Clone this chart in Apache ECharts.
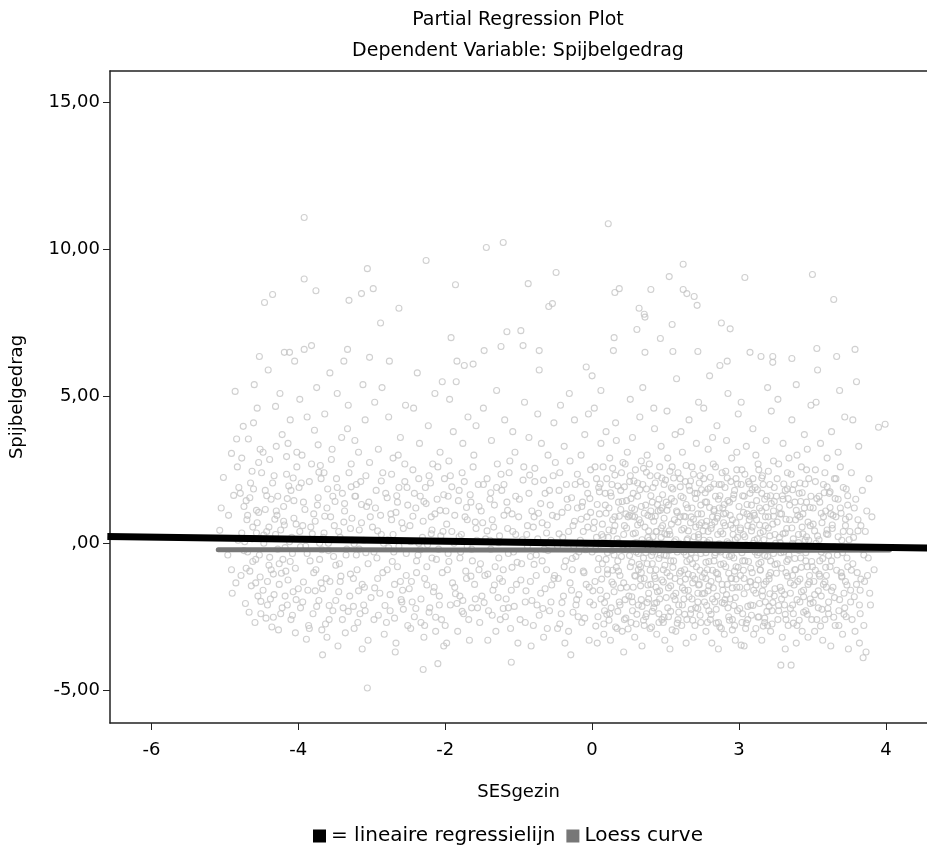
<!DOCTYPE html>
<html>
<head>
<meta charset="utf-8">
<title>Partial Regression Plot</title>
<script src="https://cdn.jsdelivr.net/npm/echarts@6/dist/echarts.min.js"></script>
<style>
  html, body { margin: 0; padding: 0; background: #fff; }
  #chart { width: 927px; height: 847px; }
</style>
</head>
<body>
<div id="chart"></div>
<script>
// tick labels as printed by SPSS (the tick at 2 reads "3")
const xTickValues = [-6, -4, -2, 0, 2, 4]
const xTickLabels = ['-6', '-4', '-2', '0', '3', '4']
const yTickValues = [-5, 0, 5, 10, 15]
const yTickLabels = ['-5,00', ',00', '5,00', '10,00', '15,00']

// fitted lines
const regressionX = [-6.6, 4.6]
const regressionY = [0.23, -0.161]
const loessX = [-5.09, -3.5, -2.0, -0.5, 0.3, 1.0, 2.0, 3.0, 4.05]
const loessY = [-0.22, -0.22, -0.23, -0.23, -0.24, -0.25, -0.25, -0.24, -0.23]

// residual points (SESgezin, Spijbelgedrag) per x band
const cloudFarLeft = [
  [-5.07,0.44],[-5.02,2.24],[-4.91,3.06],[-4.88,1.63],[-4.91,-0.90],[-4.95,0.95],[-4.85,-1.35],[-4.83,2.60],
  [-5.05,1.20],[-4.86,5.17],[-4.82,0.10],[-4.96,-0.40],[-4.84,3.55],[-4.90,-1.70],[-4.81,1.90],
  [-4.75,3.98],[-4.61,4.10],[-4.78,-1.10],[-4.72,-2.05],[-4.70,0.80],[-4.66,1.55],[-4.63,2.45],[-4.58,-0.55],
  [-4.55,-1.80],[-4.53,6.36],[-4.52,3.20],[-4.69,-0.30],[-4.74,1.25],[-4.57,0.35],[-4.64,-1.45],[-4.51,-2.40],
  [-4.77,2.90],[-4.60,5.40],[-4.68,3.55],[-4.54,1.05],[-4.73,0.05],[-4.59,-2.70],[-4.65,2.05],[-4.56,4.60],
  [-4.71,-0.85],[-4.62,0.55],[-4.52,-1.15],[-4.79,1.70],[-4.67,-2.35],[-4.54,2.75],
  [-4.46,8.20],[-4.41,5.90],[-4.35,8.47],[-4.31,4.66],[-4.48,3.10],[-4.45,1.80],[-4.43,0.40],[-4.40,-0.75],
  [-4.38,-1.90],[-4.36,-2.85],[-4.33,2.30],[-4.30,1.10],[-4.28,-0.20],[-4.26,-1.40],[-4.24,-2.40],[-4.22,3.70],
  [-4.20,0.75],[-4.19,6.50],[-4.17,-0.95],[-4.15,-2.10],[-4.13,1.95],[-4.12,6.50],[-4.11,4.20],[-4.09,0.20],
  [-4.07,-1.65],[-4.05,6.20],[-4.04,-3.05],[-4.02,2.60],[-4.44,-2.55],[-4.39,2.85],[-4.34,-1.05],[-4.29,0.95],
  [-4.25,5.10],[-4.21,-0.55],[-4.16,2.95],[-4.10,-2.60],[-4.06,1.45],[-4.47,0.00],[-4.42,-1.30],[-4.37,1.50],
  [-4.27,-2.95],[-4.18,-1.80],[-4.14,3.40],[-4.08,-0.35],[-4.03,0.65]
]

const cloudLeft = [
  [-3.92,11.09],[-3.92,9.00],[-3.76,8.60],[-3.82,6.73],[-3.92,6.60],[-3.98,4.90],[-3.95,3.00],[-3.93,1.40],
  [-3.90,-0.10],[-3.89,-3.27],[-3.87,-1.60],[-3.85,2.10],[-3.83,0.55],[-3.80,-2.40],[-3.78,3.85],[-3.76,-0.90],
  [-3.74,1.30],[-3.72,-1.95],[-3.70,2.65],[-3.68,-2.95],[-3.67,-3.80],[-3.66,0.20],[-3.64,4.40],[-3.62,-1.20],
  [-3.60,1.85],[-3.58,-2.60],[-3.56,0.90],[-3.54,3.20],[-3.52,-0.45],[-3.97,-2.20],[-3.94,0.60],[-3.88,4.30],
  [-3.84,-0.60],[-3.79,1.00],[-3.75,5.30],[-3.71,0.00],[-3.69,-1.35],[-3.65,2.40],[-3.61,-3.20],[-3.57,5.80],
  [-3.53,1.60],[-3.99,1.90],[-3.86,-2.80],[-3.73,3.35],[-3.59,-0.25],
  [-3.06,9.35],[-3.14,8.50],[-3.31,8.27],[-3.33,6.60],[-3.03,6.33],[-3.46,-3.50],[-3.06,-4.93],[-3.48,2.20],
  [-3.45,0.40],[-3.43,-1.30],[-3.41,3.60],[-3.39,-2.20],[-3.37,1.10],[-3.35,-0.40],[-3.32,4.70],[-3.30,-1.80],
  [-3.28,2.70],[-3.26,0.10],[-3.24,-2.90],[-3.22,1.60],[-3.20,-0.90],[-3.18,3.10],[-3.16,-2.40],[-3.14,0.70],
  [-3.12,5.40],[-3.10,-1.50],[-3.08,2.30],[-3.05,-3.30],[-3.02,0.90],[-3.47,5.10],[-3.44,-0.70],[-3.40,1.70],
  [-3.36,-3.05],[-3.33,3.90],[-3.29,0.50],[-3.25,-1.20],[-3.21,2.00],[-3.17,-0.20],[-3.13,-3.60],[-3.09,4.20],
  [-3.04,1.40],[-3.49,-1.95],[-3.38,6.20],[-3.23,3.50],[-3.11,-2.10],
  [-2.98,8.67],[-2.88,7.50],[-2.76,6.20],[-2.63,8.00],[-2.97,-2.60],[-2.95,1.20],[-2.93,-0.50],[-2.91,3.20],
  [-2.89,-1.70],[-2.87,0.30],[-2.85,2.40],[-2.83,-3.10],[-2.81,1.70],[-2.79,-0.90],[-2.77,4.30],[-2.75,-2.30],
  [-2.73,0.80],[-2.71,2.90],[-2.69,-1.40],[-2.67,-3.40],[-2.65,1.40],[-2.63,-0.10],[-2.61,3.60],[-2.59,-2.00],
  [-2.57,0.50],[-2.55,2.10],[-2.53,-1.10],[-2.51,-2.80],[-2.96,4.80],[-2.92,-1.20],[-2.86,5.30],[-2.80,-2.70],
  [-2.74,1.00],[-2.70,-0.30],[-2.64,3.00],[-2.58,-1.60],[-2.54,4.70],[-2.68,-3.70],[-2.84,0.00],[-2.52,1.90],
  [-2.38,5.80],[-2.26,9.63],[-2.04,5.50],[-2.30,-4.30],[-2.10,-4.10],[-2.48,0.60],[-2.46,-1.30],[-2.44,2.50],
  [-2.42,-2.50],[-2.40,1.20],[-2.37,-0.40],[-2.35,3.40],[-2.33,-1.90],[-2.31,0.20],[-2.29,-3.20],[-2.27,1.90],
  [-2.25,-0.80],[-2.23,4.00],[-2.21,-2.20],[-2.19,0.90],[-2.17,2.70],[-2.15,-1.50],[-2.13,-3.00],[-2.11,1.50],
  [-2.09,-0.20],[-2.07,3.10],[-2.05,-2.60],[-2.03,0.40],[-2.01,2.20],[-2.47,-2.90],[-2.43,4.60],[-2.39,-1.00],
  [-2.34,1.60],[-2.28,-2.80],[-2.22,2.30],[-2.18,-0.50],[-2.14,5.10],[-2.08,-1.80],[-2.02,-3.50],[-2.36,0.00]
]

const cloudMiddle = [
  [-1.92,7.00],[-1.86,8.80],[-1.85,5.50],[-1.84,6.20],[-1.74,6.05],[-1.62,6.10],[-1.99,1.10],[-1.97,-0.90],
  [-1.95,2.80],[-1.93,-2.10],[-1.91,0.40],[-1.89,3.80],[-1.87,-1.50],[-1.83,-3.00],[-1.81,1.80],[-1.79,-0.30],
  [-1.77,2.40],[-1.75,-2.40],[-1.73,0.90],[-1.71,-1.20],[-1.69,4.30],[-1.67,-3.30],[-1.65,1.40],[-1.63,-0.60],
  [-1.61,3.00],[-1.59,-1.90],[-1.57,0.10],[-1.55,2.00],[-1.53,-2.70],[-1.51,1.10],[-1.98,-3.40],[-1.94,4.90],
  [-1.88,0.00],[-1.80,-1.80],[-1.76,3.40],[-1.70,-0.10],[-1.64,-2.20],[-1.58,4.00],[-1.54,-0.90],[-1.96,1.60],
  [-1.44,10.07],[-1.21,10.24],[-1.47,6.56],[-1.24,6.70],[-1.16,7.20],[-1.10,-4.05],[-1.49,0.70],[-1.46,-1.10],
  [-1.43,2.20],[-1.41,-2.30],[-1.39,0.10],[-1.37,3.50],[-1.35,-1.60],[-1.33,1.30],[-1.31,-3.00],[-1.29,2.70],
  [-1.27,-0.50],[-1.25,-2.60],[-1.23,1.80],[-1.21,-0.90],[-1.19,4.20],[-1.17,-1.90],[-1.15,0.50],[-1.13,2.40],
  [-1.11,-2.90],[-1.09,1.00],[-1.07,-0.30],[-1.05,3.10],[-1.03,-1.40],[-1.01,-3.40],[-1.48,4.60],[-1.42,-3.30],
  [-1.36,0.80],[-1.30,5.20],[-1.26,-1.20],[-1.20,2.00],[-1.14,-2.20],[-1.08,3.80],[-1.04,0.30],[-1.38,-0.20],
  [-0.97,7.24],[-0.94,6.73],[-0.87,8.84],[-0.72,6.56],[-0.72,5.90],[-0.59,8.06],[-0.54,8.16],[-0.99,1.50],
  [-0.96,-0.70],[-0.93,2.60],[-0.91,-2.00],[-0.89,0.30],[-0.86,3.60],[-0.84,-1.30],[-0.82,1.10],[-0.80,-2.80],
  [-0.78,2.10],[-0.76,-0.40],[-0.74,4.40],[-0.70,-1.70],[-0.68,0.70],[-0.66,-3.20],[-0.64,1.70],[-0.62,-0.90],
  [-0.60,3.00],[-0.58,-2.30],[-0.56,0.10],[-0.53,2.30],[-0.51,-1.10],[-0.98,-2.60],[-0.92,4.80],[-0.88,-0.10],
  [-0.83,-3.50],[-0.79,0.90],[-0.75,-2.10],[-0.69,3.40],[-0.65,-0.20],[-0.61,-2.90],[-0.57,1.30],[-0.52,4.10],
  [-0.49,9.22],[-0.29,-3.80],[-0.08,6.00],[0.00,5.70],[-0.48,0.90],[-0.46,-1.20],[-0.44,2.40],[-0.42,-2.40],
  [-0.40,0.20],[-0.38,3.30],[-0.36,-0.60],[-0.34,1.50],[-0.32,-3.00],[-0.30,2.80],[-0.28,-1.60],[-0.26,0.60],
  [-0.24,4.20],[-0.22,-2.10],[-0.20,1.20],[-0.18,-0.30],[-0.16,2.10],[-0.14,-2.70],[-0.12,0.40],[-0.10,3.70],
  [-0.08,-1.40],[-0.06,1.70],[-0.04,-3.30],[-0.02,2.50],[-0.47,-2.90],[-0.43,4.70],[-0.39,-1.80],[-0.35,0.00],
  [-0.31,5.10],[-0.27,-0.90],[-0.23,2.00],[-0.19,-2.50],[-0.15,3.00],[-0.11,-1.00],[-0.07,0.90],[-0.03,-2.00],
  [-0.45,1.80],[-0.37,-3.40],[-0.25,-0.10],[-0.13,1.40],[-0.05,4.40]
]

const cloudRight = [
  [0.22,10.88],[0.31,8.54],[0.37,8.67],[0.30,7.00],[0.29,6.56],[0.43,-3.70],[0.02,0.50],[0.04,-1.30],
  [0.06,2.20],[0.08,-2.50],[0.10,1.00],[0.12,3.40],[0.14,-0.70],[0.16,-3.10],[0.18,1.70],[0.20,-1.80],
  [0.22,0.20],[0.24,2.90],[0.26,-2.20],[0.28,0.80],[0.30,-0.40],[0.32,4.10],[0.34,-2.90],[0.36,1.40],
  [0.38,-1.10],[0.40,2.40],[0.42,-0.10],[0.44,-2.60],[0.46,1.00],[0.48,3.10],[0.03,4.60],[0.05,-0.20],
  [0.07,-3.40],[0.09,1.90],[0.11,-1.60],[0.13,0.30],[0.15,2.60],[0.17,-2.30],[0.19,3.80],[0.21,-0.90],
  [0.23,1.20],[0.25,-3.30],[0.27,2.00],[0.29,-1.40],[0.31,0.60],[0.33,3.50],[0.35,-0.60],[0.37,-2.00],
  [0.39,1.80],[0.41,-3.00],[0.43,0.30],[0.45,2.70],[0.47,-1.50],[0.49,0.90],[0.12,5.20],
  [0.64,8.00],[0.71,7.80],[0.72,7.70],[0.61,7.28],[0.80,8.64],[0.93,6.97],[0.72,6.50],[0.51,2.10],
  [0.52,-0.80],[0.53,-2.70],[0.54,1.20],[0.55,3.60],[0.56,-1.50],[0.57,0.00],[0.58,-3.20],[0.59,2.50],
  [0.60,-0.30],[0.62,1.60],[0.63,-2.10],[0.65,4.30],[0.66,0.70],[0.67,-1.00],[0.68,-3.50],[0.69,2.00],
  [0.70,-0.50],[0.73,1.30],[0.74,-2.40],[0.75,3.00],[0.76,0.20],[0.77,-1.70],[0.78,2.70],[0.79,-2.90],
  [0.81,0.90],[0.82,-0.70],[0.83,1.90],[0.84,-2.20],[0.85,3.90],[0.86,-1.20],[0.87,0.40],[0.88,-3.10],
  [0.89,2.30],[0.90,-0.20],[0.91,1.50],[0.92,-1.90],[0.94,3.30],[0.95,-2.60],[0.96,0.60],[0.97,-0.90],
  [0.98,2.00],[0.99,-3.30],[0.52,4.90],[0.58,0.90],[0.63,-0.90],[0.67,2.80],[0.71,-2.80],[0.76,-0.10],
  [0.80,1.10],[0.84,4.60],[0.87,-1.50],[0.91,-2.70],[0.95,1.20],[0.98,-0.40],[0.55,-2.00],[0.69,5.30],[0.83,-0.30],
  [1.05,9.08],[1.24,9.50],[1.24,8.64],[1.29,8.50],[1.39,8.40],[1.43,8.10],[1.09,7.45],[1.10,6.53],
  [1.44,6.53],[1.01,1.40],[1.02,-1.00],[1.03,2.90],[1.04,-2.50],[1.06,0.30],[1.07,-0.60],[1.08,1.90],
  [1.11,-1.80],[1.12,0.80],[1.13,3.70],[1.14,-3.00],[1.15,1.10],[1.16,-0.30],[1.17,2.40],[1.18,-2.10],
  [1.19,0.00],[1.20,-1.30],[1.21,1.60],[1.22,-2.80],[1.23,3.10],[1.25,0.50],[1.26,-0.90],[1.27,2.10],
  [1.28,-3.40],[1.30,1.20],[1.31,-1.60],[1.32,4.20],[1.33,-0.20],[1.34,-2.40],[1.35,0.90],[1.36,2.60],
  [1.37,-1.10],[1.38,-3.20],[1.40,1.70],[1.41,-0.50],[1.42,3.40],[1.44,-2.00],[1.45,0.20],[1.46,-1.40],
  [1.47,2.30],[1.48,-2.70],[1.49,0.70],[1.02,4.50],[1.06,-3.60],[1.09,2.60],[1.13,-1.20],[1.17,-2.60],
  [1.21,3.80],[1.25,-1.90],[1.29,0.10],[1.33,1.80],[1.37,-0.70],[1.41,-2.20],[1.45,4.80],[1.48,1.30],
  [1.12,-0.10],[1.20,0.90],[1.28,-0.40],[1.36,-1.90],[1.44,1.00],[1.15,5.60],
  [1.76,7.50],[1.88,7.30],[1.84,6.20],[1.74,6.05],[1.51,-0.20],[1.52,2.20],[1.53,-1.70],[1.54,0.60],
  [1.55,-3.00],[1.56,1.40],[1.57,-0.90],[1.58,3.20],[1.59,-2.30],[1.60,0.10],[1.61,1.90],[1.62,-1.30],
  [1.63,-3.40],[1.64,0.90],[1.65,2.70],[1.66,-0.60],[1.67,-2.00],[1.68,1.60],[1.69,-1.00],[1.70,4.00],
  [1.71,0.30],[1.72,-2.70],[1.73,1.20],[1.75,-0.30],[1.77,2.40],[1.78,-1.60],[1.79,0.70],[1.80,-3.10],
  [1.81,1.90],[1.82,-0.80],[1.83,3.50],[1.85,-2.20],[1.86,0.00],[1.87,1.40],[1.89,-1.20],[1.90,2.90],
  [1.91,-2.60],[1.92,0.50],[1.93,-0.50],[1.94,1.80],[1.95,-3.30],[1.96,2.20],[1.97,-1.50],[1.98,0.20],
  [1.99,4.40],[1.52,4.60],[1.55,-1.20],[1.58,0.40],[1.61,-2.60],[1.64,3.60],[1.67,-0.10],[1.70,-1.80],
  [1.73,2.00],[1.76,-2.90],[1.79,1.00],[1.82,-0.40],[1.85,5.10],[1.88,-1.90],[1.91,0.80],[1.94,-2.80],
  [1.97,3.10],[1.60,5.70],[1.72,-3.60],[1.84,-1.40],[1.96,-0.80],[1.66,1.10],
  [2.15,6.50],[2.30,6.36],[2.46,6.36],[2.46,6.16],[2.08,9.05],[2.03,-3.47],[2.01,0.90],[2.02,-1.10],
  [2.04,2.50],[2.05,-2.40],[2.06,0.30],[2.07,1.60],[2.08,-0.60],[2.09,-2.90],[2.10,3.30],[2.11,-1.50],
  [2.12,0.60],[2.13,2.10],[2.14,-0.20],[2.16,-2.10],[2.17,1.30],[2.18,-1.00],[2.19,3.90],[2.20,-3.10],
  [2.21,0.10],[2.22,1.90],[2.23,-1.70],[2.24,0.80],[2.25,-0.40],[2.26,2.70],[2.27,-2.50],[2.28,1.20],
  [2.29,-0.90],[2.31,-3.30],[2.32,2.30],[2.33,0.40],[2.34,-1.40],[2.35,1.50],[2.36,-2.00],[2.37,3.50],
  [2.38,-0.10],[2.39,-2.80],[2.40,0.90],[2.41,-1.10],[2.42,2.00],[2.43,-0.60],[2.44,4.50],[2.45,-2.30],
  [2.47,1.10],[2.48,-1.80],[2.49,0.30],[2.03,4.80],[2.07,-3.50],[2.11,1.00],[2.15,-1.30],[2.19,0.00],
  [2.23,3.00],[2.27,-0.70],[2.31,1.70],[2.35,-2.70],[2.39,5.30],[2.43,-3.00],[2.47,2.80],[2.12,-2.60],[2.36,0.60],
  [2.57,-4.15],[2.71,-4.15],[2.72,6.29],[2.51,1.60],[2.52,-0.70],[2.53,-2.60],[2.54,2.70],[2.55,0.20],
  [2.56,-1.50],[2.58,1.00],[2.59,-3.20],[2.60,3.40],[2.61,-0.30],[2.62,-2.10],[2.63,1.80],[2.64,-1.00],
  [2.65,0.50],[2.66,2.40],[2.67,-2.80],[2.68,-0.40],[2.69,1.30],[2.70,-1.70],[2.72,4.20],[2.73,0.00],
  [2.74,-2.40],[2.75,2.00],[2.76,-0.90],[2.77,0.80],[2.78,-3.40],[2.79,3.00],[2.80,-1.30],[2.81,0.30],
  [2.82,1.70],[2.83,-2.00],[2.84,-0.50],[2.85,2.60],[2.86,-3.00],[2.87,1.00],[2.88,-1.60],[2.89,3.70],
  [2.90,0.10],[2.91,-2.30],[2.92,1.40],[2.93,-0.80],[2.94,-3.20],[2.95,2.20],[2.96,-1.10],[2.97,0.60],
  [2.98,4.70],[2.99,-2.60],[2.53,4.90],[2.58,-1.90],[2.63,-3.60],[2.68,2.90],[2.73,-1.10],[2.78,5.40],
  [2.83,0.90],[2.88,-0.10],[2.93,3.20],[2.97,-1.90],
  [3.00,9.15],[3.29,8.30],[3.06,6.63],[3.33,6.36],[3.07,5.90],[3.37,5.20],[3.01,1.20],[3.02,-1.30],
  [3.03,-3.00],[3.04,2.50],[3.05,0.00],[3.08,-2.20],[3.09,1.60],[3.10,-0.60],[3.11,3.40],[3.12,-1.80],
  [3.13,0.70],[3.14,-3.30],[3.15,2.00],[3.16,-0.20],[3.17,-2.60],[3.18,1.10],[3.19,-1.10],[3.20,2.90],
  [3.21,0.30],[3.22,-2.00],[3.23,1.70],[3.24,-0.80],[3.25,-3.50],[3.26,3.80],[3.27,0.50],[3.28,-1.50],
  [3.30,2.20],[3.31,-2.80],[3.32,0.90],[3.34,-0.40],[3.35,1.50],[3.36,-2.30],[3.38,2.60],[3.39,-1.00],
  [3.40,0.10],[3.41,-3.10],[3.42,1.90],[3.43,-1.70],[3.44,4.30],[3.45,0.60],[3.46,-2.50],[3.47,-0.50],
  [3.48,1.30],[3.49,-3.60],[3.05,4.80],[3.15,-1.40],[3.25,1.00],[3.35,3.10],[3.45,-1.30],
  [3.60,5.50],[3.99,4.05],[3.90,3.95],[3.84,-0.90],[3.71,-1.30],[3.65,-1.60],[3.73,-3.70],[3.51,0.40],
  [3.52,-2.00],[3.53,2.40],[3.55,-0.70],[3.57,1.20],[3.58,-3.00],[3.60,-1.40],[3.62,0.80],[3.63,3.30],
  [3.65,-2.40],[3.67,-0.20],[3.68,1.80],[3.70,-2.80],[3.72,0.40],[3.75,-1.10],[3.77,2.20],[3.79,-2.10],
  [3.81,0.90],[3.55,4.20],[3.58,6.60],[3.64,-3.40],[3.69,-3.90],[3.76,-0.50]
]

// extra points for the dense core of the cloud
const cloudCore = [
  [-4.77,0.35],[-4.74,-0.25],[-4.71,1.45],[-4.69,0.95],[-4.66,-0.95],[-4.63,0.15],[-4.61,1.85],[-4.58,-1.35],
  [-4.56,0.70],[-4.53,-0.40],[-4.50,2.40],[-4.48,-1.60],[-4.45,1.15],[-4.42,-2.10],[-4.40,0.55],[-4.37,-0.90],
  [-4.35,2.05],[-4.33,-1.75],[-4.31,0.30],[-4.30,3.30],
  [-4.28,1.60],[-4.26,-0.70],[-4.24,0.45],[-4.22,-2.20],[-4.20,1.25],[-4.18,-0.15],[-4.16,2.35],[-4.14,-1.25],
  [-4.12,0.05],[-4.10,1.80],[-4.08,-2.45],[-4.06,0.85],[-4.04,-0.85],[-4.02,3.10],[-4.00,-1.55],[-3.98,0.40],
  [-3.96,2.05],[-3.94,-2.00],[-3.91,1.15],[-3.88,-0.35],[-3.85,-2.90],[-3.82,2.70],
  [-3.79,-1.00],[-3.77,0.75],[-3.75,-2.15],[-3.73,1.55],[-3.71,-0.55],[-3.69,2.20],[-3.67,-1.55],[-3.65,0.35],
  [-3.63,-2.75],[-3.61,1.20],[-3.59,0.00],[-3.57,-1.30],[-3.55,2.85],[-3.53,-2.30],[-3.51,0.60],[-3.49,-0.75],
  [-3.47,1.90],[-3.45,-1.65],[-3.43,0.20],[-3.40,-2.60],[-3.37,1.35],[-3.34,-0.20],
  [-3.31,2.40],[-3.29,-1.05],[-3.27,0.85],[-3.25,-2.15],[-3.23,1.60],[-3.21,-0.40],[-3.19,-2.70],[-3.17,0.45],
  [-3.15,2.10],[-3.13,-1.40],[-3.11,0.10],[-3.09,-2.30],[-3.07,1.25],[-3.05,-0.70],[-3.03,2.75],[-3.01,-1.85],
  [-2.99,0.55],[-2.97,-0.30],[-2.94,1.80],[-2.91,-2.45],[-2.88,0.95],[-2.85,-1.00],
  [-2.79,1.55],[-2.77,-0.15],[-2.75,-1.75],[-2.73,2.35],[-2.71,0.30],[-2.69,-2.55],[-2.67,1.05],[-2.65,-0.80],
  [-2.63,1.90],[-2.61,-1.30],[-2.59,0.70],[-2.57,-2.25],[-2.55,2.70],[-2.53,-0.35],[-2.51,1.30],[-2.49,-1.55],
  [-2.47,0.05],[-2.45,-2.00],[-2.42,1.70],[-2.39,-0.60],[-2.36,2.20],[-2.33,-2.70],
  [-2.30,0.75],[-2.28,-1.20],[-2.26,1.35],[-2.24,-0.05],[-2.22,-2.35],[-2.20,2.05],[-2.18,0.45],[-2.16,-1.65],
  [-2.14,1.00],[-2.12,-0.55],[-2.10,2.60],[-2.08,-2.10],[-2.06,0.25],[-2.04,-1.00],[-2.02,1.65],[-2.00,-2.80],
  [-1.98,0.65],[-1.96,-0.35],[-1.93,2.30],[-1.90,-1.35],[-1.87,0.95],[-1.84,-2.05],
  [-1.82,1.45],[-1.80,-0.50],[-1.78,0.30],[-1.76,-1.95],[-1.74,2.10],[-1.72,-0.95],[-1.70,0.80],[-1.68,-2.60],
  [-1.66,1.65],[-1.64,-0.20],[-1.62,2.60],[-1.60,-1.40],[-1.58,0.50],[-1.56,-2.20],[-1.54,1.25],[-1.52,-0.70],
  [-1.50,-1.80],[-1.48,2.00],[-1.45,0.15],[-1.42,-1.05],[-1.39,1.50],[-1.36,-2.45],
  [-1.34,0.55],[-1.32,-0.80],[-1.30,1.90],[-1.28,-1.85],[-1.26,0.25],[-1.24,2.35],[-1.22,-1.30],[-1.20,0.95],
  [-1.18,-2.50],[-1.16,1.40],[-1.14,-0.35],[-1.12,2.80],[-1.10,-1.60],[-1.08,0.40],[-1.06,-2.15],[-1.04,1.60],
  [-1.02,-0.65],[-1.00,0.90],[-0.97,-1.25],[-0.94,2.15],[-0.91,-2.70],[-0.88,0.60],
  [-0.86,1.70],[-0.84,-0.45],[-0.82,-1.95],[-0.80,0.55],[-0.78,2.55],[-0.76,-1.10],[-0.74,0.15],[-0.72,-2.45],
  [-0.70,1.35],[-0.68,-0.60],[-0.66,2.15],[-0.64,-1.55],[-0.62,0.35],[-0.60,-0.25],[-0.58,1.80],[-0.56,-2.00],
  [-0.54,0.95],[-0.52,-1.20],[-0.50,2.75],[-0.47,-0.10],[-0.44,-2.75],[-0.41,1.05],[-0.38,-0.80],[-0.35,2.00],
  [-0.32,0.40],[-0.30,-1.35],[-0.28,1.55],[-0.26,-2.35],[-0.24,0.75],[-0.22,-0.45],[-0.20,2.35],[-0.18,-1.75],
  [-0.16,0.10],[-0.14,1.25],[-0.12,-0.95],[-0.10,-2.55],[-0.08,2.00],[-0.06,0.55],[-0.04,-1.50],[-0.02,1.05],
  [0.00,-0.30],[0.02,-2.10],[0.04,2.60],[0.06,0.20],[0.08,-0.90],[0.10,1.75],[0.12,-1.90],[0.14,0.65],
  [0.16,-2.75],[0.18,1.30],[0.19,-0.55],[0.20,2.20],
  [0.21,-1.05],[0.23,0.45],[0.24,-2.40],[0.26,1.60],[0.27,-0.25],[0.28,2.55],[0.30,-1.65],[0.31,0.90],
  [0.32,-2.85],[0.34,0.15],[0.35,1.95],[0.36,-0.95],[0.38,-2.10],[0.39,1.15],[0.40,-0.45],[0.42,2.75],
  [0.43,-1.35],[0.44,0.60],[0.46,-2.55],[0.47,1.45],[0.48,-0.10],[0.50,-1.80],[0.51,0.95],[0.52,2.30],
  [0.54,-0.65],[0.55,-2.30],[0.56,1.70],[0.58,-1.10],[0.59,0.35],[0.60,-2.75],[0.62,2.05],[0.63,-0.35],
  [0.64,0.80],[0.66,-1.45],[0.67,1.25],[0.68,-2.15],[0.69,0.00],[0.70,2.55],[0.66,-0.80],[0.58,1.15],
  [0.71,-1.20],[0.72,0.55],[0.73,-2.50],[0.74,1.85],[0.75,-0.70],[0.76,0.95],[0.77,-1.90],[0.78,0.10],
  [0.79,2.30],[0.80,-1.40],[0.81,-2.85],[0.82,1.40],[0.83,-0.15],[0.84,0.75],[0.85,-2.05],[0.86,2.05],
  [0.87,-0.90],[0.88,0.40],[0.89,-1.65],[0.90,1.10],[0.91,-2.40],[0.92,2.60],[0.93,-0.40],[0.94,0.20],
  [0.95,-1.25],[0.96,1.65],[0.97,-2.70],[0.98,0.85],[0.99,-0.75],[1.00,2.15],[1.01,-1.85],[1.02,0.30],
  [1.03,-2.20],[1.04,1.30],[1.05,-0.25],[1.06,2.45],[1.07,-1.45],[1.08,0.65],[1.09,-2.95],[1.10,1.85],
  [1.11,-0.60],[1.12,0.05],[1.14,-1.70],[1.16,1.05],[1.18,-2.35],
  [1.20,2.20],[1.21,-0.95],[1.22,0.45],[1.23,-2.10],[1.24,1.55],[1.25,-0.30],[1.26,-1.60],[1.27,0.90],
  [1.28,2.65],[1.29,-2.60],[1.30,0.15],[1.31,-1.05],[1.32,1.95],[1.33,-0.55],[1.34,0.70],[1.35,-2.25],
  [1.36,1.20],[1.37,-1.35],[1.38,2.35],[1.39,-0.10],[1.40,-2.80],[1.41,0.55],[1.42,-0.80],[1.43,1.70],
  [1.44,-1.70],[1.45,0.30],[1.46,2.05],[1.47,-2.45],[1.48,-0.35],[1.49,1.00],[1.50,-1.15],[1.51,2.55],
  [1.52,0.10],[1.53,-2.00],[1.54,1.40],[1.55,-0.65],[1.56,0.75],[1.57,-2.70],[1.58,1.85],[1.59,-1.45],
  [1.60,-0.15],[1.61,2.25],[1.62,0.50],[1.64,-1.90],[1.66,1.15],
  [1.67,-0.40],[1.68,2.60],[1.69,-2.25],[1.70,0.85],[1.71,-1.05],[1.72,1.50],[1.73,-0.25],[1.74,-2.85],
  [1.75,0.40],[1.76,2.00],[1.77,-1.40],[1.78,1.20],[1.79,-0.70],[1.80,-2.05],[1.81,0.60],[1.82,2.45],
  [1.83,-1.75],[1.84,0.05],[1.85,1.45],[1.86,-2.50],[1.87,-0.45],[1.88,0.95],[1.89,2.10],[1.90,-1.20],
  [1.91,-2.95],[1.92,0.30],[1.93,1.65],[1.94,-0.95],[1.95,-1.85],[1.96,0.70],[1.97,2.50],[1.98,-2.30],
  [1.99,-0.20],[2.00,1.25],[2.01,-1.50],[2.02,0.45],[2.03,2.00],[2.04,-2.70],[2.05,-0.60],[2.06,1.05],
  [2.07,-1.20],[2.08,2.35],[2.10,-0.05],[2.12,-2.15],[2.14,0.80],
  [2.15,1.70],[2.16,-0.85],[2.17,-2.45],[2.18,0.55],[2.19,2.20],[2.20,-1.60],[2.21,0.95],[2.22,-0.30],
  [2.23,-2.90],[2.24,1.45],[2.25,0.15],[2.26,-1.25],[2.27,2.50],[2.28,-2.05],[2.29,0.35],[2.30,-0.65],
  [2.31,1.10],[2.32,-1.80],[2.33,2.00],[2.34,-0.10],[2.35,-2.55],[2.36,0.90],[2.37,-1.30],[2.38,1.60],
  [2.39,-0.45],[2.40,2.45],[2.41,-2.15],[2.42,0.25],[2.43,-1.00],[2.44,1.35],[2.45,-2.75],[2.46,0.65],
  [2.47,-0.35],[2.48,1.90],[2.49,-1.55],[2.50,0.00],[2.52,2.20],[2.54,-2.30],[2.56,1.00],[2.58,-0.85],
  [2.60,1.50],[2.62,-1.75],
  [2.63,0.35],[2.64,-2.60],[2.66,1.85],[2.67,-0.55],[2.69,0.80],[2.70,-1.35],[2.71,2.35],[2.73,-2.10],
  [2.74,0.15],[2.76,1.40],[2.77,-0.90],[2.79,-2.80],[2.80,0.95],[2.82,-0.25],[2.83,2.05],[2.85,-1.65],
  [2.86,0.55],[2.88,-2.35],[2.89,1.20],[2.91,-0.60],[2.92,2.50],[2.94,-1.40],[2.95,0.10],[2.97,-2.05],
  [2.98,1.60],[3.00,-0.80],[3.01,0.65],[3.03,-1.75],[3.04,2.10],[3.06,-2.60],[3.07,0.25],[3.09,-1.05],
  [3.10,1.40],[3.12,-0.30],[3.13,-2.25],[3.15,0.90],[3.17,2.40],[3.19,-1.50],
  [3.20,0.45],[3.22,-2.40],[3.24,1.75],[3.26,-0.60],[3.28,0.95],[3.30,-1.85],[3.32,2.20],[3.34,-0.15],
  [3.36,-2.80],[3.38,1.20],[3.40,-1.15],[3.42,0.40],[3.44,-2.20],[3.46,1.85],[3.48,-0.80],[3.50,0.90],
  [3.52,-1.60],[3.54,-2.60],[3.56,0.20],[3.59,1.50],[3.61,-1.00],[3.64,-2.10],[3.66,0.60],[3.70,-0.40],
  [3.74,1.10],[3.78,-1.70]
]

// more points where the cloud is nearly solid
const cloudDense = [
  [-4.62,-0.62],[-4.57,1.12],[-4.51,-1.98],[-4.47,0.28],[-4.43,1.62],[-4.39,-0.48],[-4.34,-2.52],[-4.32,0.82],
  [-4.23,-1.02],[-4.19,0.62],[-4.15,1.52],[-4.11,-0.62],[-4.07,2.22],[-4.03,-1.92],[-3.97,-0.12],[-3.93,-1.32],
  [-3.81,0.32],[-3.77,-1.62],[-3.72,2.42],[-3.68,-0.22],[-3.64,0.92],[-3.58,-2.12],[-3.54,0.12],[-3.50,1.42],
  [-3.42,-1.12],[-3.38,0.72],[-3.32,-2.32],[-3.28,1.92],[-3.24,-0.02],[-3.18,-1.62],[-3.14,1.32],[-3.08,-0.32],
  [-2.96,-1.52],[-2.92,0.42],[-2.87,2.12],[-2.82,-2.12],[-2.78,0.12],[-2.72,-0.62],[-2.66,1.62],[-2.60,-1.92],
  [-2.44,0.92],[-2.40,-2.22],[-2.34,-0.22],[-2.29,1.42],[-2.25,-1.42],[-2.19,0.32],[-2.13,-2.52],[-2.07,1.12],
  [-1.95,-0.62],[-1.91,1.92],[-1.86,-1.72],[-1.81,0.22],[-1.77,-2.32],[-1.71,1.22],[-1.65,-1.12],[-1.59,0.72],
  [-1.47,-2.02],[-1.43,0.42],[-1.38,1.72],[-1.33,-1.42],[-1.27,0.02],[-1.21,-2.22],[-1.15,1.12],[-1.09,-0.82],
  [-0.95,0.12],[-0.90,-1.62],[-0.85,2.32],[-0.79,-0.72],[-0.73,1.02],[-0.67,-2.22],[-0.61,0.62],[-0.55,-1.42],
  [-0.45,0.32],[-0.41,-2.02],[-0.33,1.22],[-0.27,-0.52],[-0.21,-1.92],[-0.15,0.82],[-0.09,-0.22],[-0.03,1.52],
  [0.01,-1.62],[0.03,0.72],[0.05,-2.82],[0.07,1.32],[0.09,-0.52],[0.11,2.02],[0.13,-1.22],[0.15,0.22],
  [0.17,-2.02],[0.19,1.02],[0.21,-0.32],[0.23,-2.62],[0.25,1.72],[0.27,-1.32],[0.29,0.42],[0.31,2.32],
  [0.33,-0.82],[0.35,-2.32],[0.37,0.92],[0.39,-1.52],[0.41,1.42],[0.43,-0.22],[0.45,-1.92],[0.47,0.52],
  [0.49,-2.92],[0.12,-0.02],[0.28,-0.92],[0.44,1.92],[0.36,0.02],[0.20,-2.42],
  [0.51,-0.42],[0.53,1.52],[0.54,-1.82],[0.56,0.32],[0.57,2.12],[0.59,-1.12],[0.61,-2.42],[0.62,0.62],
  [0.64,-0.72],[0.65,1.82],[0.67,-1.92],[0.68,0.12],[0.70,-2.62],[0.71,1.02],[0.73,-0.32],[0.74,2.42],
  [0.76,-1.42],[0.77,0.42],[0.79,-0.92],[0.80,1.62],[0.82,-2.32],[0.83,0.22],[0.85,-1.12],[0.86,0.92],
  [0.88,-2.02],[0.89,1.32],[0.91,-0.52],[0.92,-1.62],[0.94,0.52],[0.95,2.22],[0.97,-1.32],[0.98,-2.52],
  [0.99,0.32],[0.60,0.02],[0.75,-2.02],[0.90,-0.12],[0.55,0.92],[0.81,-0.42],[0.93,1.12],[0.66,-1.22],
  [1.01,-0.42],[1.02,1.12],[1.04,-1.52],[1.05,0.42],[1.07,-2.32],[1.08,1.52],[1.10,-0.82],[1.11,2.22],
  [1.13,-1.92],[1.14,0.12],[1.16,-2.72],[1.17,0.72],[1.19,-1.02],[1.20,1.92],[1.22,-0.22],[1.23,-1.52],
  [1.25,0.92],[1.26,-2.42],[1.28,1.32],[1.29,-0.62],[1.31,0.42],[1.32,-1.82],[1.34,2.12],[1.35,-0.32],
  [1.37,-2.62],[1.38,0.82],[1.40,-1.22],[1.41,1.52],[1.43,-0.02],[1.44,-2.22],[1.46,0.62],[1.47,-0.92],
  [1.49,1.82],[1.50,-1.72],[1.06,-1.12],[1.18,-0.02],[1.27,-1.22],[1.39,0.22],[1.45,-1.42],[1.12,1.42],
  [1.51,0.42],[1.53,-1.02],[1.54,1.72],[1.56,-2.12],[1.57,0.02],[1.59,-0.62],[1.60,1.22],[1.62,-2.42],
  [1.63,0.62],[1.65,-1.52],[1.66,2.02],[1.68,-0.32],[1.69,-2.72],[1.71,0.92],[1.72,-1.22],[1.74,1.62],
  [1.75,-0.72],[1.77,-2.02],[1.78,0.32],[1.80,1.32],[1.81,-1.92],[1.83,-0.12],[1.84,2.22],[1.86,-1.02],
  [1.87,-2.62],[1.89,0.62],[1.90,-0.42],[1.92,1.52],[1.93,-2.12],[1.95,0.12],[1.96,-1.22],[1.98,2.02],
  [1.99,-0.82],[1.55,-0.32],[1.64,-0.92],[1.73,-0.02],[1.82,1.02],[1.91,-1.52],[1.58,-1.62],[1.67,0.72],
  [2.01,-2.22],[2.02,0.52],[2.04,-0.32],[2.05,1.62],[2.07,-1.72],[2.08,0.22],[2.10,-2.72],[2.11,1.32],
  [2.13,-0.62],[2.14,2.02],[2.16,-1.32],[2.17,0.42],[2.19,-2.12],[2.20,1.02],[2.22,-0.12],[2.23,-1.42],
  [2.25,1.82],[2.26,-2.52],[2.28,0.62],[2.29,-0.92],[2.31,2.22],[2.32,-1.62],[2.34,0.12],[2.35,-0.42],
  [2.37,1.22],[2.38,-2.32],[2.40,0.52],[2.41,-1.22],[2.43,1.62],[2.44,-0.22],[2.46,-2.02],[2.47,0.92],
  [2.49,-0.72],[2.06,-0.92],[2.18,1.82],[2.27,-0.32],[2.33,-2.82],[2.42,-1.72],[2.15,0.92],[2.48,1.42],
  [2.51,-1.02],[2.52,0.72],[2.54,-2.12],[2.55,1.22],[2.57,-0.32],[2.58,-1.62],[2.60,0.32],[2.61,2.02],
  [2.63,-2.42],[2.64,0.82],[2.66,-1.12],[2.67,1.52],[2.69,-0.12],[2.70,-2.22],[2.72,0.52],[2.73,1.82],
  [2.75,-1.42],[2.76,-0.52],[2.78,1.12],[2.79,-1.92],[2.81,0.02],[2.82,-2.62],[2.84,1.42],[2.85,-0.82],
  [2.87,0.32],[2.88,-1.82],[2.90,2.02],[2.91,-0.32],[2.93,-2.42],[2.94,0.72],[2.96,-1.32],[2.97,1.22],
  [2.99,-0.62],[2.56,0.02],[2.65,-0.62],[2.74,-2.72],[2.83,-1.22],[2.92,0.22],[2.59,1.62],[2.86,1.72],
  [3.01,-2.02],[3.03,0.42],[3.04,-0.92],[3.06,1.52],[3.08,-1.62],[3.09,0.12],[3.11,-2.82],[3.12,1.02],
  [3.14,-0.52],[3.16,1.72],[3.17,-1.32],[3.19,0.32],[3.21,-2.22],[3.22,-0.42],[3.24,1.22],[3.26,-1.62],
  [3.27,0.62],[3.29,-2.52],[3.31,1.52],[3.33,-0.92],[3.35,0.22],[3.37,-1.92],[3.39,1.02],[3.41,-0.32],
  [3.43,-2.42],[3.45,0.82],[3.47,-1.42],[3.50,0.12],[3.53,-0.92],[3.57,-1.82],[3.62,0.42],[3.66,-1.22],
  [3.10,-1.12],[3.20,1.92],[3.30,-0.12],[3.40,-1.12],[3.48,1.62],[3.18,-0.82]
]

const points = cloudFarLeft.concat(cloudLeft, cloudMiddle, cloudRight, cloudCore, cloudDense)
const regressionData = regressionX.map((x, i) => [x, regressionY[i]])
const loessData = loessX.map((x, i) => [x, loessY[i]])

const font = 'DejaVu Sans'
const axisColor = '#222'

const chart = echarts.init(document.getElementById('chart'), null, { renderer: 'canvas' })

const option = {
  animation: false,
  textStyle: { fontFamily: font, color: '#000' },
  title: {
    text: 'Partial Regression Plot\nDependent Variable: Spijbelgedrag',
    left: 518,
    top: 5,
    padding: 0,
    textAlign: 'center',
    textStyle: { fontFamily: font, fontSize: 19, fontWeight: 'normal', color: '#000', lineHeight: 31 }
  },
  legend: {
    left: 313,
    top: 826,
    padding: 0,
    itemWidth: 13,
    itemHeight: 13,
    itemGap: 11,
    textStyle: { fontFamily: font, fontSize: 20, color: '#000' },
    data: [
      { name: '= lineaire regressielijn', icon: 'rect', itemStyle: { color: '#000', borderWidth: 0 } },
      { name: 'Loess curve', icon: 'rect', itemStyle: { color: '#777', borderWidth: 0 } }
    ]
  },
  grid: { left: 110, right: 0, top: 71, bottom: 124, containLabel: false },
  xAxis: [{
    type: 'value',
    min: -6.564,
    max: 4.56,
    name: 'SESgezin',
    nameLocation: 'middle',
    nameGap: 60,
    nameTextStyle: { fontFamily: font, fontSize: 18, color: '#000' },
    splitLine: { show: false },
    axisLine: { show: true, onZero: false, lineStyle: { color: axisColor, width: 1.5 } },
    axisTick: { show: true, length: 7, customValues: xTickValues, lineStyle: { color: axisColor } },
    axisLabel: {
      customValues: xTickValues,
      margin: 18,
      fontFamily: font,
      fontSize: 18,
      color: '#000',
      formatter: v => xTickLabels[xTickValues.indexOf(v)]
    }
  }, {
    type: 'value',
    position: 'top',
    min: -6.564,
    max: 4.56,
    splitLine: { show: false },
    axisLine: { show: true, onZero: false, lineStyle: { color: axisColor, width: 1.5 } },
    axisTick: { show: false },
    axisLabel: { show: false }
  }],
  yAxis: {
    type: 'value',
    min: -6.12,
    max: 16.08,
    name: 'Spijbelgedrag',
    nameLocation: 'middle',
    nameGap: 84,
    nameTextStyle: { fontFamily: font, fontSize: 18, color: '#000' },
    splitLine: { show: false },
    axisLine: { show: true, onZero: false, lineStyle: { color: axisColor, width: 1.5 } },
    axisTick: { show: true, length: 7, customValues: yTickValues, lineStyle: { color: axisColor } },
    axisLabel: {
      customValues: yTickValues,
      margin: 10,
      fontFamily: font,
      fontSize: 18,
      color: '#000',
      formatter: v => yTickLabels[yTickValues.indexOf(v)]
    }
  },
  series: [{
    name: 'residuals',
    type: 'scatter',
    xAxisIndex: 0,
    data: points,
    symbol: 'circle',
    symbolSize: 6,
    itemStyle: { color: 'rgba(255,255,255,0)', borderColor: '#c4c4c4', borderWidth: 1.1 },
    silent: true,
    z: 1
  }, {
    name: 'Loess curve',
    type: 'line',
    xAxisIndex: 0,
    data: loessData,
    showSymbol: false,
    color: '#777',
    lineStyle: { color: '#777', width: 5, cap: 'round' },
    z: 2
  }, {
    name: '= lineaire regressielijn',
    type: 'line',
    xAxisIndex: 0,
    data: regressionData,
    showSymbol: false,
    color: '#000',
    lineStyle: { color: '#000', width: 7 },
    clip: true,
    z: 3
  }]
}

chart.setOption(option)
</script>
</body>
</html>
